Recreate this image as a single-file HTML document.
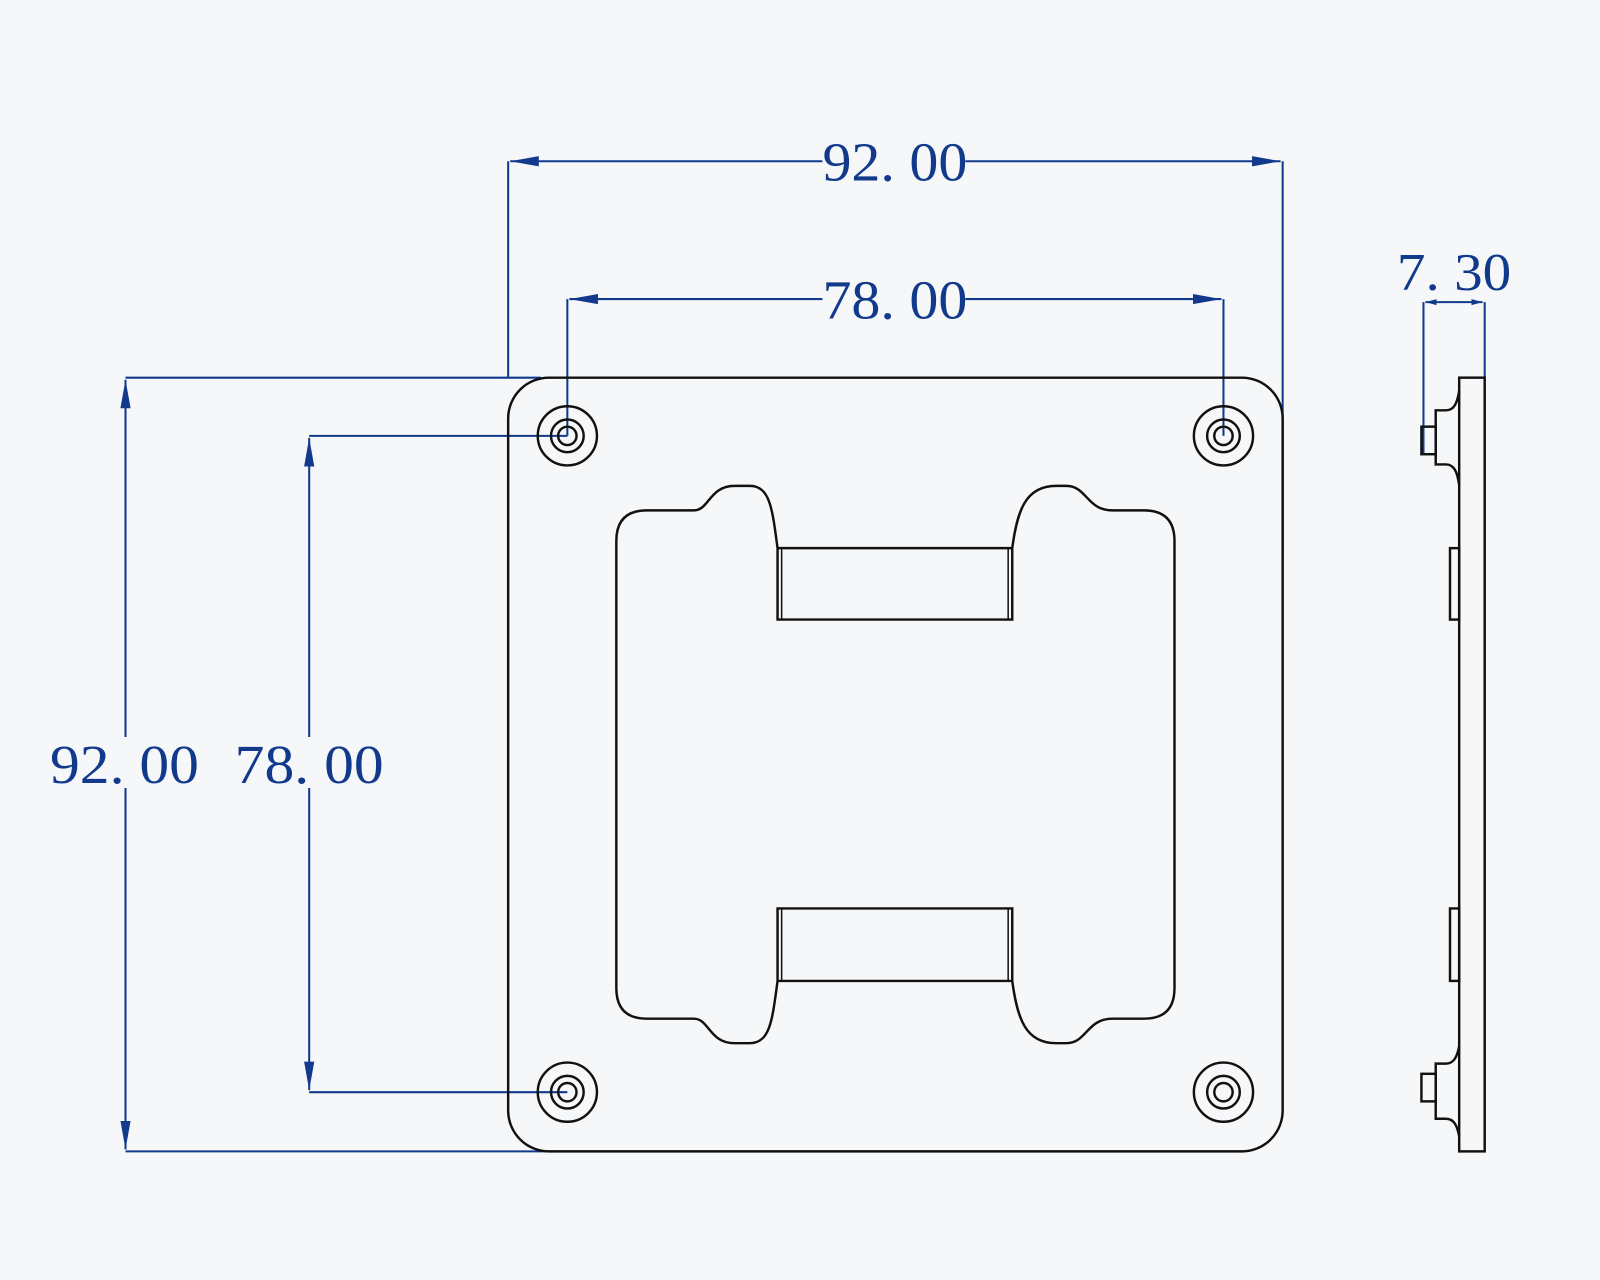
<!DOCTYPE html>
<html><head><meta charset="utf-8"><style>html,body{margin:0;padding:0;background:#f6f7f9;}svg{display:block}</style></head>
<body>
<svg width="1600" height="1280" viewBox="0 0 1568 1254" preserveAspectRatio="none" xmlns="http://www.w3.org/2000/svg">
<rect width="1568" height="1254" fill="#f6f7f9"/>
<defs>
<marker id="a" markerWidth="30" markerHeight="12" refX="28" refY="6" orient="auto" markerUnits="userSpaceOnUse"><path d="M0,1 L28,6 L0,11 Z" fill="#123a8c"/></marker>
<marker id="s" markerWidth="12" markerHeight="8" refX="11" refY="4" orient="auto" markerUnits="userSpaceOnUse"><path d="M0,1 L11,4 L0,7 Z" fill="#123a8c"/></marker>
</defs>
<g stroke="#123a8c" stroke-width="2" fill="none">
<line x1="498" y1="158" x2="498" y2="370"/>
<line x1="1257" y1="158" x2="1257" y2="548"/>
<line x1="556" y1="293" x2="556" y2="427"/>
<line x1="1199" y1="293" x2="1199" y2="427"/>
<line x1="123" y1="370" x2="530" y2="370"/>
<line x1="123" y1="1128" x2="540" y2="1128"/>
<line x1="303" y1="427" x2="556" y2="427"/>
<line x1="303" y1="1070" x2="556" y2="1070"/>
<line x1="806" y1="158" x2="500" y2="158" marker-end="url(#a)"/>
<line x1="946" y1="158" x2="1255" y2="158" marker-end="url(#a)"/>
<line x1="806" y1="293" x2="558" y2="293" marker-end="url(#a)"/>
<line x1="946" y1="293" x2="1197" y2="293" marker-end="url(#a)"/>
<line x1="123" y1="722" x2="123" y2="372" marker-end="url(#a)"/>
<line x1="123" y1="772" x2="123" y2="1126" marker-end="url(#a)"/>
<line x1="303" y1="722" x2="303" y2="429" marker-end="url(#a)"/>
<line x1="303" y1="772" x2="303" y2="1068" marker-end="url(#a)"/>
<line x1="1395" y1="296" x2="1395" y2="445"/>
<line x1="1455" y1="296" x2="1455" y2="370"/>
<line x1="1425" y1="296" x2="1397" y2="296" marker-end="url(#s)"/>
<line x1="1425" y1="296" x2="1453" y2="296" marker-end="url(#s)"/>
</g>
<g fill="#123a8c" font-family="'Liberation Serif',serif" font-size="54" text-anchor="middle">
<text x="877" y="177" textLength="142" lengthAdjust="spacingAndGlyphs">92. 00</text>
<text x="877" y="312" textLength="142" lengthAdjust="spacingAndGlyphs">78. 00</text>
<text x="122" y="767" textLength="146" lengthAdjust="spacingAndGlyphs">92. 00</text>
<text x="303" y="767" textLength="146" lengthAdjust="spacingAndGlyphs">78. 00</text>
<text x="1425" y="284" font-size="52" textLength="112" lengthAdjust="spacingAndGlyphs">7. 30</text>
</g>
<g stroke="#111" stroke-width="2.4" fill="none">
<rect x="498" y="370" width="759" height="758" rx="40"/>
<g>
<circle cx="556" cy="427" r="29"/><circle cx="556" cy="427" r="16"/><circle cx="556" cy="427" r="9"/>
<circle cx="1199" cy="427" r="29"/><circle cx="1199" cy="427" r="16"/><circle cx="1199" cy="427" r="9"/>
<circle cx="556" cy="1070" r="29"/><circle cx="556" cy="1070" r="16"/><circle cx="556" cy="1070" r="9"/>
<circle cx="1199" cy="1070" r="29"/><circle cx="1199" cy="1070" r="16"/><circle cx="1199" cy="1070" r="9"/>
</g>
<path d="M604,530 Q604,500 634,500 L680,500 C695,500 695,476 720,476 L735,476 C755,476 757,500 762,537 L762,607 L992,607 L992,537 C997,500 1005,476 1035,476 L1045,476 C1065,476 1065,500 1090,500 L1121,500 Q1151,500 1151,530 L1151,968 Q1151,998 1121,998 L1090,998 C1065,998 1065,1022 1045,1022 L1035,1022 C1005,1022 997,998 992,961 L992,890 L762,890 L762,961 C757,998 755,1022 735,1022 L720,1022 C695,1022 695,998 680,998 L634,998 Q604,998 604,968 Z"/>
<line x1="762" y1="537" x2="992" y2="537"/>
<line x1="762" y1="961" x2="992" y2="961"/>
<line x1="766" y1="537" x2="766" y2="607" stroke-width="1.5"/>
<line x1="988" y1="537" x2="988" y2="607" stroke-width="1.5"/>
<line x1="766" y1="890" x2="766" y2="961" stroke-width="1.5"/>
<line x1="988" y1="890" x2="988" y2="961" stroke-width="1.5"/>
<rect x="1430" y="370" width="25" height="758"/>
<rect x="1393" y="418" width="14" height="27"/>
<path d="M1430,383 C1428,395 1425,402 1417,402 L1407,402 L1407,455 L1417,455 C1425,455 1428,462 1430,475"/>
<rect x="1393" y="1052" width="14" height="27"/>
<path d="M1430,1025 C1428,1035 1425,1042 1417,1042 L1407,1042 L1407,1096 L1417,1096 C1425,1096 1428,1103 1430,1113"/>
<rect x="1421" y="537" width="9" height="70"/>
<rect x="1421" y="890" width="9" height="71"/>
</g>
</svg>
</body></html>
